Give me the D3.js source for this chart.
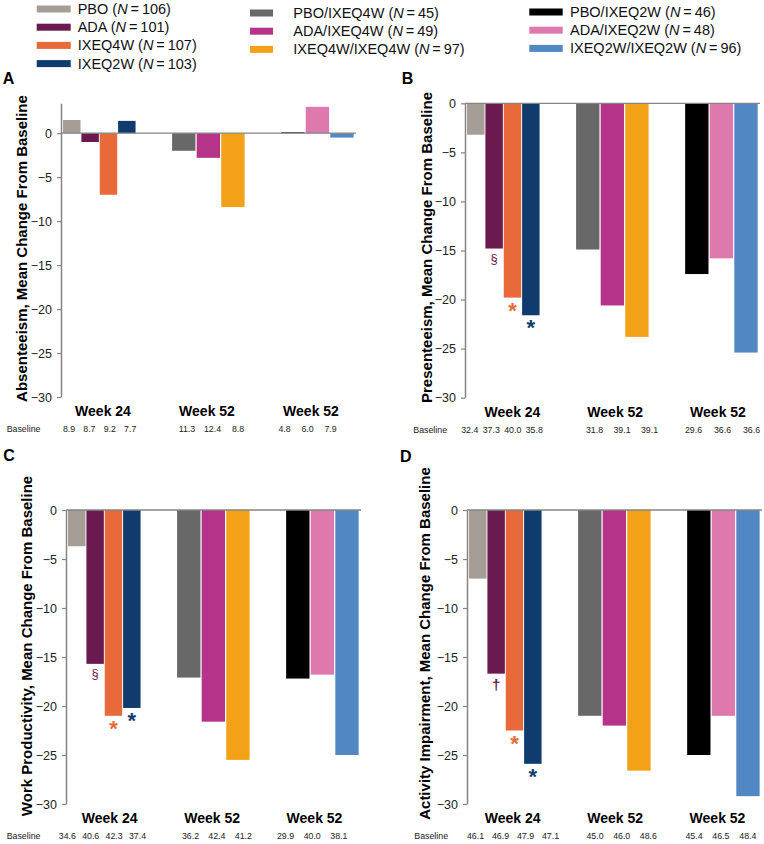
<!DOCTYPE html>
<html><head><meta charset="utf-8">
<script src="https://cdn.jsdelivr.net/npm/d3@7"></script>
<style>body{margin:0;background:#fff}svg{display:block;font-family:"Liberation Sans",Arial,Helvetica,sans-serif}</style>
</head><body><svg id="chart" width="764" height="844"></svg>
<script>
// ---------- data ----------
const weekLabels = ["Week 24", "Week 52", "Week 52"];
const seriesNames = ["PBO", "ADA", "IXEQ4W", "IXEQ2W",
  "PBO/IXEQ4W", "ADA/IXEQ4W", "IXEQ4W/IXEQ4W",
  "PBO/IXEQ2W", "ADA/IXEQ2W", "IXEQ2W/IXEQ2W"];
const seriesGroup = [0, 0, 0, 0, 1, 1, 1, 2, 2, 2];
const seriesN = [106, 101, 107, 103, 45, 49, 97, 46, 48, 96];
const seriesColors = ["#a69d97", "#6a1a4f", "#e8693a", "#0f3c6c",
  "#686868", "#b53388", "#f3a116", "#000000", "#de79ad", "#5187c3"];
const yTicks = [0, -5, -10, -15, -20, -25, -30];

const absenteeism = [1.5, -1.0, -7.0, 1.4, -2.0, -2.8, -8.4, 0.1, 3.0, -0.5];
const presenteeism = [-3.2, -14.8, -19.8, -21.6, -14.9, -20.6, -23.8, -17.4, -15.8, -25.4];
const workProductivity = [-3.7, -15.7, -21.0, -20.2, -17.1, -21.6, -25.5, -17.2, -16.8, -25.0];
const activityImpairment = [-7.0, -16.7, -22.5, -25.9, -21.0, -22.0, -26.6, -25.0, -21.0, -29.2];

const baselineA = [8.9, 8.7, 9.2, 7.7, 11.3, 12.4, 8.8, 4.8, 6.0, 7.9];
const baselineB = [32.4, 37.3, 40.0, 35.8, 31.8, 39.1, 39.1, 29.6, 36.6, 36.6];
const baselineC = [34.6, 40.6, 42.3, 37.4, 36.2, 42.4, 41.2, 29.9, 40.0, 38.1];
const baselineD = [46.1, 46.9, 47.9, 47.1, 45.0, 46.0, 48.6, 45.4, 46.5, 48.4];

const markersB = [{s: 1, sym: "\u00A7"}, {s: 2, sym: "*"}, {s: 3, sym: "*"}];
const markersC = [{s: 1, sym: "\u00A7"}, {s: 2, sym: "*"}, {s: 3, sym: "*"}];
const markersD = [{s: 1, sym: "\u2020"}, {s: 2, sym: "*"}, {s: 3, sym: "*"}];

// ---------- layout ----------
const svg = d3.select("#chart");
const FONT = '"Liberation Sans",Arial,Helvetica,sans-serif';

// Legend
const legCols = [{sx: 36.7, sw: 34, tx: 77.7, dy: 0}, {sx: 250, sw: 23, tx: 293.3, dy: 4}, {sx: 529.3, sw: 33.4, tx: 570, dy: 3}];
const legRow = [0, 1, 2, 3, 0, 1, 2, 0, 1, 2];
const legend = svg.append("g");
seriesNames.forEach((name, i) => {
  const c = legCols[seriesGroup[i]];
  const cy = 9 + legRow[i] * 18.2 + c.dy;
  legend.append("rect").attr("x", c.sx).attr("y", cy - 3.5).attr("width", c.sw).attr("height", 7)
    .attr("fill", seriesColors[i]);
  const t = legend.append("text").attr("x", c.tx).attr("y", cy + 5).attr("font-size", 14.5).attr("fill", "#111");
  t.append("tspan").text(name + " (");
  t.append("tspan").attr("font-style", "italic").text("N");
  t.append("tspan").text("\u2009=\u2009" + seriesN[i] + ")");
});

function drawPanel(cfg) {
  const g = svg.append("g");
  const y = d3.scaleLinear().domain(cfg.domain).range([cfg.bottom, cfg.top]);
  const gx = d3.scalePoint().domain([0, 1, 2]).range([cfg.x0 + 38.3, cfg.x0 + 256.4]);
  const inner = [0, 1, 2].map(k => d3.scaleBand()
    .domain(seriesNames.map((d, i) => i).filter(i => seriesGroup[i] === k))
    .range([-36.25, 36.25]).paddingInner(0.05));

  // bars
  g.append("g").selectAll("rect").data(cfg.values).join("rect")
    .attr("x", (v, i) => gx(seriesGroup[i]) + inner[seriesGroup[i]](i))
    .attr("width", (v, i) => inner[seriesGroup[i]].bandwidth())
    .attr("y", v => y(Math.max(v, 0)))
    .attr("height", v => Math.abs(y(v) - y(0)))
    .attr("fill", (v, i) => seriesColors[i]);

  // axis
  const ax = g.append("g").attr("transform", `translate(${cfg.x0},0)`)
    .call(d3.axisLeft(y).tickValues(yTicks).tickSize(4).tickPadding(5).tickSizeOuter(0));
  ax.select(".domain").attr("stroke", "#858585").attr("stroke-width", 1.5);
  ax.selectAll(".tick line").attr("stroke", "#858585").attr("stroke-width", 1.2);
  ax.selectAll(".tick text").attr("font-size", 12.5).attr("font-family", FONT).attr("fill", "#222");

  // zero line
  g.append("line").attr("x1", cfg.x0).attr("x2", cfg.x0 + 295)
    .attr("y1", y(0)).attr("y2", y(0)).attr("stroke", "#858585").attr("stroke-width", 1.3);

  // y label
  g.append("text").attr("transform", `translate(${cfg.labX},${cfg.labY}) rotate(-90)`)
    .attr("text-anchor", "middle").attr("font-size", 15).attr("font-weight", "bold")
    .attr("fill", "#000").text(cfg.label);

  // week labels
  const wx = d3.scalePoint().domain([0, 1, 2]).range([cfg.x0 + cfg.wk[0], cfg.x0 + cfg.wk[1]]);
  g.selectAll(".wk").data(weekLabels).join("text")
    .attr("x", (d, i) => wx(i)).attr("y", cfg.bottom + 19)
    .attr("text-anchor", "middle").attr("font-size", 14).attr("font-weight", "bold").text(d => d);

  // baseline row
  g.append("text").attr("x", cfg.blX).attr("y", cfg.bottom + 35).attr("font-size", 8.8).attr("fill", "#222").text("Baseline");
  const idxInGroup = seriesNames.map((d, i) => seriesNames.slice(0, i).filter((e, j) => seriesGroup[j] === seriesGroup[i]).length);
  const cntGroup = [4, 3, 3];
  g.selectAll(".bl").data(cfg.baseline).join("text")
    .attr("x", (v, i) => {
      const k = seriesGroup[i];
      return cfg.x0 + cfg.blMid[k] + (idxInGroup[i] - (cntGroup[k] - 1) / 2) * cfg.blStep[k];
    })
    .attr("y", cfg.bottom + 35).attr("text-anchor", "middle").attr("font-size", 8.8).attr("fill", "#222")
    .text(v => v.toFixed(1));

  // significance markers
  (cfg.markers || []).forEach(m => {
    const k = seriesGroup[m.s];
    const cx = gx(k) + inner[k](m.s) + inner[k].bandwidth() / 2;
    const isStar = m.sym === "*";
    const fs = isStar ? 22 : (m.sym === "\u2020" ? 15 : 13);
    const off = isStar ? 20 : (m.sym === "\u2020" ? 16.5 : 14.5);
    g.append("text").attr("x", cx).attr("y", y(cfg.values[m.s]) + off)
      .attr("text-anchor", "middle").attr("font-size", fs)
      .attr("font-weight", m.sym === "\u00A7" ? "normal" : "bold")
      .attr("fill", seriesColors[m.s]).text(m.sym);
  });

  // panel letter
  g.append("text").attr("x", cfg.letX).attr("y", cfg.letY).attr("font-size", 16).attr("font-weight", "bold").text(cfg.letter);
}

drawPanel({letter: "A", letX: 2.7, letY: 84, x0: 61, top: 103.3, bottom: 397, domain: [-30, 3.4],
  values: absenteeism, baseline: baselineA, label: "Absenteeism, Mean Change From Baseline",
  labX: 26.5, labY: 248.5, wk: [42, 250], blX: 6.7, blMid: [38.6, 151.5, 246.6], blStep: [20.4, 25.6, 23]});
drawPanel({letter: "B", letX: 401.7, letY: 84, x0: 465, top: 103.3, bottom: 397.7, domain: [-30, 0],
  values: presenteeism, baseline: baselineB, label: "Presenteeism, Mean Change From Baseline",
  labX: 431.5, labY: 247.5, wk: [47.5, 253], blX: 413.3, blMid: [37, 157, 257.5], blStep: [21.5, 27.5, 29], markers: markersB});
drawPanel({letter: "C", letX: 3.3, letY: 461, x0: 66, top: 510, bottom: 804, domain: [-30, 0],
  values: workProductivity, baseline: baselineC, label: "Work Productivity, Mean Change From Baseline",
  labX: 31.5, labY: 646, wk: [43.7, 248.5], blX: 6.7, blMid: [36.4, 150.9, 246.2], blStep: [23.4, 26.4, 26.7], markers: markersC});
drawPanel({letter: "D", letX: 400, letY: 462, x0: 467, top: 510, bottom: 804, domain: [-30, 0],
  values: activityImpairment, baseline: baselineD, label: "Activity Impairment, Mean Change From Baseline",
  labX: 430, labY: 643.5, wk: [45.7, 250.5], blX: 414.3, blMid: [46, 154.7, 253.9], blStep: [25, 26.7, 26.9], markers: markersD});
</script></body></html>
